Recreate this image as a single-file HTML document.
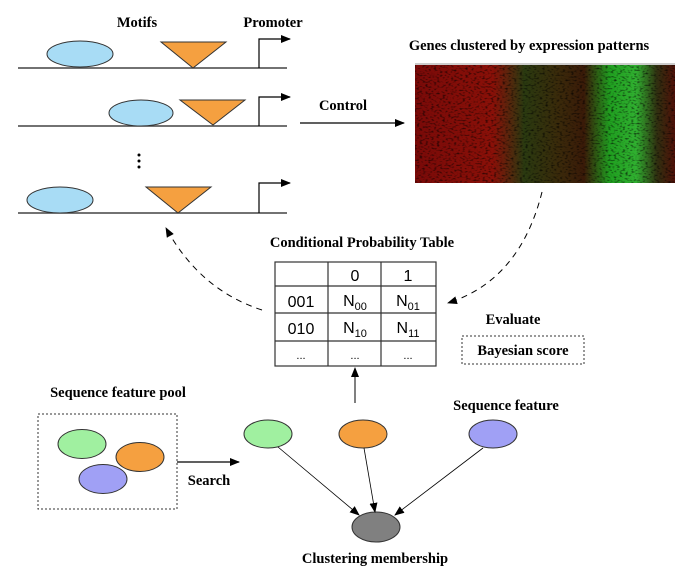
<!DOCTYPE html>
<html><head><meta charset="utf-8"><style>
body{margin:0;background:#fff}
svg{display:block}
.t{font-family:"Liberation Serif",serif;font-weight:bold;font-size:14.5px;fill:#000}
.s{font-family:"Liberation Sans",sans-serif;font-size:16px;fill:#000}
</style></head><body>
<svg width="685" height="578" viewBox="0 0 685 578">
<defs>
<marker id="a" markerWidth="10" markerHeight="8" refX="9" refY="4" orient="auto" markerUnits="userSpaceOnUse"><path d="M0,0L10,4L0,8z" fill="#000"/></marker>
<linearGradient id="hg" x1="0" x2="1">
<stop offset="0" stop-color="#7a0a08"/><stop offset="0.3" stop-color="#8a1008"/><stop offset="0.42" stop-color="#2a3a10"/>
<stop offset="0.55" stop-color="#3a2a0a"/><stop offset="0.65" stop-color="#3a1a08"/><stop offset="0.75" stop-color="#20a020"/>
<stop offset="0.85" stop-color="#30b030"/><stop offset="0.93" stop-color="#303010"/><stop offset="1" stop-color="#501008"/>
</linearGradient>
<filter id="n" x="0" y="0" width="100%" height="100%">
<feTurbulence type="fractalNoise" baseFrequency="0.35 0.6" numOctaves="1" seed="3" result="t"/>
<feColorMatrix in="t" type="matrix" values="0 0 0 0 0  0 0 0 0 0  0 0 0 0 0  0 0 0 2.2 -1.1" result="m"/>
<feComposite in="m" in2="SourceGraphic" operator="in"/>
</filter>
</defs>
<text class="t" x="137" y="27" text-anchor="middle">Motifs</text>
<text class="t" x="273" y="27" text-anchor="middle">Promoter</text>
<g stroke="#444" stroke-width="1.5" fill="none">
<line x1="18" y1="68" x2="287" y2="68"/><line x1="18" y1="126" x2="287" y2="126"/><line x1="18" y1="213" x2="287" y2="213"/>
</g>
<g fill="#a8dcf5" stroke="#333">
<ellipse cx="80" cy="54" rx="33" ry="13"/><ellipse cx="141" cy="113" rx="32" ry="13"/><ellipse cx="60" cy="200" rx="33" ry="13"/>
</g>
<g fill="#f5a040" stroke="#333">
<polygon points="161,42 226,42 193,68"/><polygon points="180,100 245,100 213,125"/><polygon points="146,187 211,187 178,213"/>
</g>
<g stroke="#000" stroke-width="1.2" fill="none">
<path d="M259,68V39H290" marker-end="url(#a)"/><path d="M259,126V97H290" marker-end="url(#a)"/><path d="M259,213V183H290" marker-end="url(#a)"/>
<line x1="300" y1="123" x2="404" y2="123" marker-end="url(#a)"/>
</g>
<g fill="#000"><circle cx="139" cy="155" r="1.5"/><circle cx="139" cy="161" r="1.5"/><circle cx="139" cy="167" r="1.5"/></g>
<text class="t" x="343" y="110" text-anchor="middle">Control</text>
<text class="t" x="529" y="50" text-anchor="middle">Genes clustered by expression patterns</text>
<rect x="415" y="63" width="260" height="2" fill="#ccc"/>
<rect x="415" y="65" width="260" height="118" fill="url(#hg)"/>
<rect x="415" y="65" width="260" height="118" fill="#000" filter="url(#n)"/>
<g stroke="#000" stroke-width="1" stroke-dasharray="6,5" fill="none">
<path d="M542,192 Q520,280 448,303" marker-end="url(#a)"/>
<path d="M262,310 Q200,290 166,228" marker-end="url(#a)"/>
</g>
<text class="t" x="362" y="247" text-anchor="middle">Conditional Probability Table</text>
<g stroke="#333" stroke-width="1.2" fill="none">
<rect x="275" y="262" width="161" height="104"/>
<line x1="275" y1="286" x2="436" y2="286"/><line x1="275" y1="313" x2="436" y2="313"/><line x1="275" y1="341" x2="436" y2="341"/>
<line x1="328" y1="262" x2="328" y2="366"/><line x1="381" y1="262" x2="381" y2="366"/>
</g>
<g class="s" text-anchor="middle">
<text x="355" y="281">0</text><text x="408" y="281">1</text>
<text x="301" y="307">001</text><text x="301" y="334">010</text>
<text x="355" y="306">N<tspan font-size="11" dy="4">00</tspan></text>
<text x="408" y="306">N<tspan font-size="11" dy="4">01</tspan></text>
<text x="355" y="333">N<tspan font-size="11" dy="4">10</tspan></text>
<text x="408" y="333">N<tspan font-size="11" dy="4">11</tspan></text>
<text x="301" y="359" font-size="11">...</text><text x="355" y="359" font-size="11">...</text><text x="408" y="359" font-size="11">...</text>
</g>
<text class="t" x="513" y="324" text-anchor="middle">Evaluate</text>
<rect x="462" y="336" width="122" height="28" fill="none" stroke="#333" stroke-dasharray="2,2"/>
<text class="t" x="523" y="355" text-anchor="middle">Bayesian score</text>
<line x1="355" y1="403" x2="355" y2="368" stroke="#000" marker-end="url(#a)"/>
<text class="t" x="118" y="397" text-anchor="middle">Sequence feature pool</text>
<rect x="38" y="414" width="139" height="95" fill="none" stroke="#333" stroke-dasharray="2,2"/>
<ellipse cx="82" cy="444" rx="24" ry="14.5" fill="#a0f0a0" stroke="#333"/>
<ellipse cx="140" cy="457" rx="24" ry="14.5" fill="#f5a040" stroke="#333"/>
<ellipse cx="103" cy="479" rx="24" ry="14.5" fill="#a0a0f5" stroke="#333"/>
<line x1="177" y1="462" x2="239" y2="462" stroke="#000" stroke-width="1.2" marker-end="url(#a)"/>
<text class="t" x="209" y="485" text-anchor="middle">Search</text>
<text class="t" x="506" y="410" text-anchor="middle">Sequence feature</text>
<ellipse cx="268" cy="434" rx="24" ry="14" fill="#a0f0a0" stroke="#333"/>
<ellipse cx="363" cy="434" rx="24" ry="14" fill="#f5a040" stroke="#333"/>
<ellipse cx="493" cy="434" rx="24" ry="14" fill="#a0a0f5" stroke="#333"/>
<ellipse cx="376" cy="527" rx="24" ry="15" fill="#808080" stroke="#333"/>
<g stroke="#000" stroke-width="0.8">
<line x1="278" y1="447" x2="359" y2="515" marker-end="url(#a)"/>
<line x1="364" y1="448" x2="375" y2="512" marker-end="url(#a)"/>
<line x1="483" y1="448" x2="395" y2="515" marker-end="url(#a)"/>
</g>
<text class="t" x="375" y="563" text-anchor="middle">Clustering membership</text>
</svg>
</body></html>
